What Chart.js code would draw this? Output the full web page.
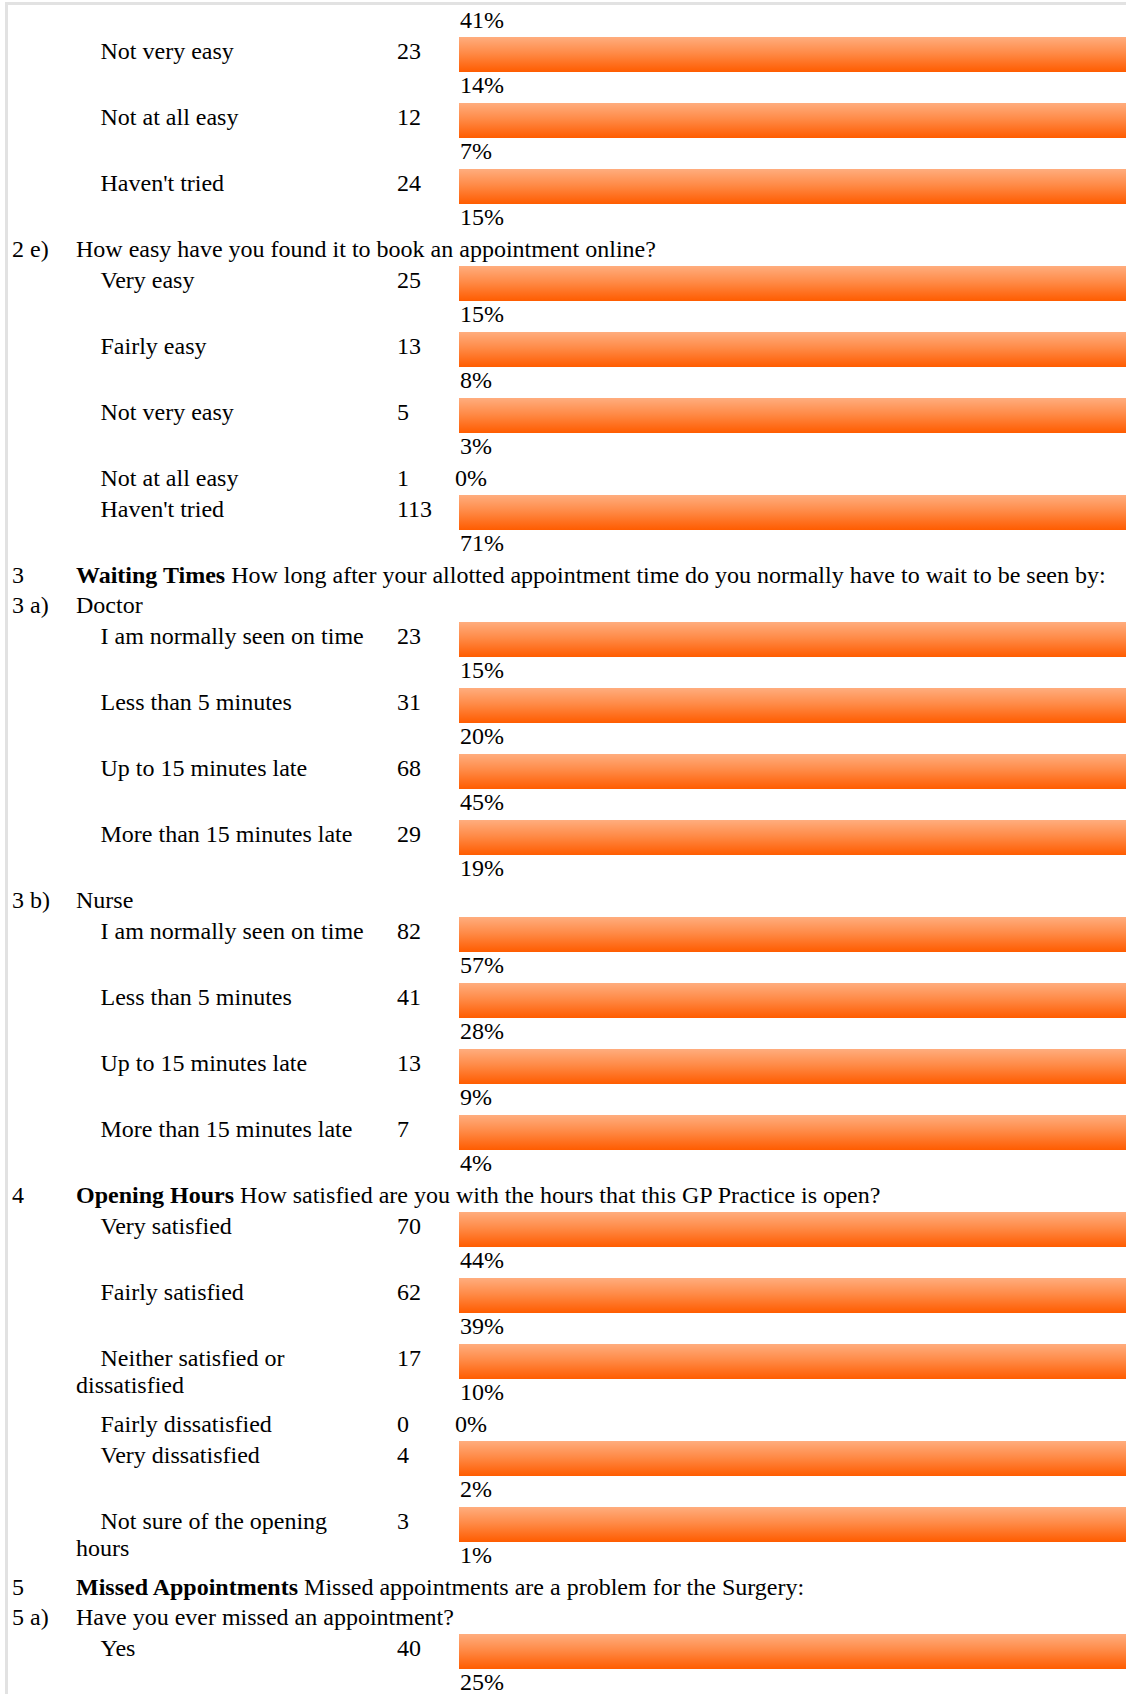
<!DOCTYPE html>
<html>
<head>
<meta charset="utf-8">
<title>Patient survey results</title>
<script src="https://cdn.jsdelivr.net/npm/chart.js@4.4.1/dist/chart.umd.min.js"></script>
<style>
  html, body { margin: 0; padding: 0; background: #fff; }
  body {
    width: 1126px; height: 1694px; overflow: hidden; position: relative;
    font-family: "Liberation Serif", "Times New Roman", serif;
    font-size: 24px; line-height: 27.6px; color: #000;
  }
  .frame {
    position: absolute; left: 5px; top: 2px; right: 0; bottom: 0;
    border-top: 3px solid #e2e2e2; border-left: 3px solid #e2e2e2;
  }
  #sheet { position: absolute; left: 0; top: 0; width: 1126px; }
  .row { position: relative; }
  .row.lead { height: 37px; }
  .row.bar { height: 66px; }
  .row.text { height: 30.8px; }
  .num { position: absolute; left: 12px; top: 1px; white-space: nowrap; }
  .q { position: absolute; left: 76px; top: 1px; white-space: nowrap; }
  .label { position: absolute; left: 76px; top: 1px; width: 300px; text-indent: 24.5px; }
  .count { position: absolute; left: 397px; top: 1px; }
  .pct { position: absolute; left: 460px; top: 35px; white-space: nowrap; }
  .row.lead .pct { top: 7px; }
  .row.text .pct { left: 455px; top: 1px; }
  .barbox { position: absolute; left: 459px; top: 0; }
  .barbox canvas { display: block; }
</style>
</head>
<body>
<div class="frame"></div>
<div id="sheet"></div>
<script>
// --- survey data ---
// 2 d) continues from the previous page: only its last answer's % and the remaining rows show
const q2dLeadPct = 41;
const q2dLabels = ['Not very easy', 'Not at all easy', "Haven't tried"];
const q2dCounts = [23, 12, 24];
const q2dPcts = [14, 7, 15];

const q2eText = 'How easy have you found it to book an appointment online?';
const q2eLabels = ['Very easy', 'Fairly easy', 'Not very easy', 'Not at all easy', "Haven't tried"];
const q2eCounts = [25, 13, 5, 1, 113];
const q2ePcts = [15, 8, 3, 0, 71];

const q3Title = 'Waiting Times';
const q3Text = ' How long after your allotted appointment time do you normally have to wait to be seen by:';
const waitLabels = ['I am normally seen on time', 'Less than 5 minutes', 'Up to 15 minutes late', 'More than 15 minutes late'];
const doctorCounts = [23, 31, 68, 29];
const doctorPcts = [15, 20, 45, 19];
const nurseCounts = [82, 41, 13, 7];
const nursePcts = [57, 28, 9, 4];

const q4Title = 'Opening Hours';
const q4Text = ' How satisfied are you with the hours that this GP Practice is open?';
const hoursLabels = ['Very satisfied', 'Fairly satisfied', 'Neither satisfied or dissatisfied',
                     'Fairly dissatisfied', 'Very dissatisfied', 'Not sure of the opening hours'];
const hoursCounts = [70, 62, 17, 0, 4, 3];
const hoursPcts = [44, 39, 10, 0, 2, 1];

const q5Title = 'Missed Appointments';
const q5Text = ' Missed appointments are a problem for the Surgery:';
const q5aText = 'Have you ever missed an appointment?';
const missedLabels = ['Yes'];
const missedCounts = [40];
const missedPcts = [25];

// page order
const page = [
  { type: 'lead', pct: q2dLeadPct },
  { type: 'items', labels: q2dLabels, counts: q2dCounts, pcts: q2dPcts },
  { type: 'head', num: '2 e)', text: q2eText },
  { type: 'items', labels: q2eLabels, counts: q2eCounts, pcts: q2ePcts },
  { type: 'head', num: '3', bold: q3Title, text: q3Text },
  { type: 'head', num: '3 a)', text: 'Doctor' },
  { type: 'items', labels: waitLabels, counts: doctorCounts, pcts: doctorPcts },
  { type: 'head', num: '3 b)', text: 'Nurse' },
  { type: 'items', labels: waitLabels, counts: nurseCounts, pcts: nursePcts },
  { type: 'head', num: '4', bold: q4Title, text: q4Text },
  { type: 'items', labels: hoursLabels, counts: hoursCounts, pcts: hoursPcts },
  { type: 'head', num: '5', bold: q5Title, text: q5Text },
  { type: 'head', num: '5 a)', text: q5aText },
  { type: 'items', labels: missedLabels, counts: missedCounts, pcts: missedPcts },
];

const BAR_W = 667, BAR_H = 35;
const sheet = document.getElementById('sheet');

function el(tag, cls, text) {
  const e = document.createElement(tag);
  if (cls) e.className = cls;
  if (text !== undefined) e.textContent = text;
  return e;
}

// orange bar fill, light at the top and deep orange at the bottom
function barFill(c) {
  const area = c.chart.chartArea;
  if (!area) return '#ff7f3a';
  const g = c.chart.ctx.createLinearGradient(0, area.top, 0, area.bottom);
  g.addColorStop(0, '#ffad7e');
  g.addColorStop(0.45, '#ff8b48');
  g.addColorStop(1, '#ff5c00');
  return g;
}

// one bar per answer; 1% already spans the whole column, so every non-zero answer runs off the edge
function drawBar(canvas, label, pct) {
  return new Chart(canvas, {
    type: 'bar',
    data: {
      labels: [label],
      datasets: [{
        data: [pct],
        backgroundColor: barFill,
        borderWidth: 0,
        barPercentage: 1,
        categoryPercentage: 1,
        inflateAmount: 0
      }]
    },
    options: {
      indexAxis: 'y',
      responsive: false,
      animation: false,
      events: [],
      layout: { padding: 0 },
      scales: {
        x: { display: false, min: 0, max: 1 },
        y: { display: false }
      },
      plugins: { legend: { display: false }, tooltip: { enabled: false } }
    }
  });
}

page.forEach(block => {
  if (block.type === 'lead') {
    const row = el('div', 'row lead');
    row.appendChild(el('span', 'pct', block.pct + '%'));
    sheet.appendChild(row);
  } else if (block.type === 'head') {
    const row = el('div', 'row text');
    row.appendChild(el('span', 'num', block.num));
    const q = el('span', 'q');
    if (block.bold) q.appendChild(el('b', null, block.bold));
    q.appendChild(document.createTextNode(block.text));
    row.appendChild(q);
    sheet.appendChild(row);
  } else {
    block.labels.forEach((label, i) => {
      const pct = block.pcts[i];
      const row = el('div', pct > 0 ? 'row bar' : 'row text');
      row.appendChild(el('div', 'label', label));
      row.appendChild(el('span', 'count', String(block.counts[i])));
      if (pct > 0) {
        const box = el('div', 'barbox');
        const cv = document.createElement('canvas');
        cv.width = BAR_W;
        cv.height = BAR_H;
        box.appendChild(cv);
        row.appendChild(box);
        drawBar(cv, label, pct);
      }
      row.appendChild(el('span', 'pct', pct + '%'));
      sheet.appendChild(row);
    });
  }
});
</script>
</body>
</html>
